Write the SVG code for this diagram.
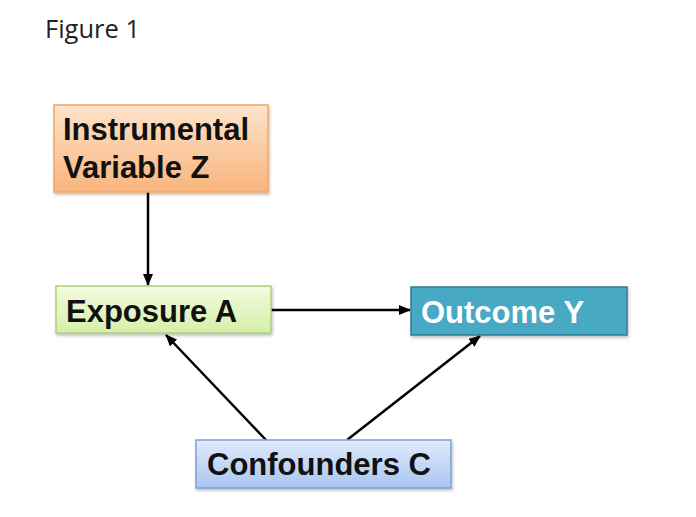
<svg xmlns="http://www.w3.org/2000/svg" width="696" height="517" viewBox="0 0 696 517">
<defs>
<linearGradient id="gO" x1="0" y1="0" x2="0" y2="1"><stop offset="0" stop-color="#fde3cb"/><stop offset="1" stop-color="#f9b47c"/></linearGradient>
<linearGradient id="gG" x1="0" y1="0" x2="0" y2="1"><stop offset="0" stop-color="#f3fbe0"/><stop offset="1" stop-color="#d6efa8"/></linearGradient>
<linearGradient id="gB" x1="0" y1="0" x2="0" y2="1"><stop offset="0" stop-color="#e0ebfc"/><stop offset="1" stop-color="#a8c5f0"/></linearGradient>
<marker id="ah" markerWidth="12" markerHeight="10" refX="11" refY="5" orient="auto" markerUnits="userSpaceOnUse"><path d="M0,0 L12,5 L0,10 Z" fill="#000"/></marker>
<filter id="sh" x="-5%" y="-5%" width="112%" height="125%"><feDropShadow dx="1" dy="2" stdDeviation="1.5" flood-color="#000" flood-opacity="0.25"/></filter>
</defs>
<style>
.lbl{font-family:"Liberation Sans",Arial,sans-serif;font-weight:bold;font-size:31px;fill:#111}
.edge{stroke:#000;stroke-width:2.5;fill:none;marker-end:url(#ah)}
</style>
<rect width="696" height="517" fill="#fff"/>
<text x="45" y="38" font-family="'Open Sans','Noto Sans',sans-serif" font-size="25.5" fill="#222">Figure 1</text>
<g id="edges">
<line class="edge" x1="148" y1="192" x2="148" y2="285"/>
<line class="edge" x1="271" y1="310" x2="410" y2="310"/>
<line class="edge" x1="266" y1="440" x2="166" y2="335"/>
<line class="edge" x1="347" y1="440" x2="480" y2="336"/>
</g>
<g id="nodeZ">
<rect x="54" y="105" width="214" height="87" fill="url(#gO)" stroke="#f0a868" stroke-width="1.5" filter="url(#sh)"/>
<text class="lbl" x="63" y="140">Instrumental</text>
<text class="lbl" x="63" y="178">Variable Z</text>
</g>
<g id="nodeA">
<rect x="56" y="286" width="215" height="47" fill="url(#gG)" stroke="#a9d27a" stroke-width="1.5" filter="url(#sh)"/>
<text class="lbl" x="66" y="322">Exposure A</text>
</g>
<g id="nodeY">
<rect x="411" y="287" width="216" height="48" fill="#47a9c3" stroke="#2f7d92" stroke-width="1.5" filter="url(#sh)"/>
<text class="lbl" x="421" y="323" style="fill:#fff">Outcome Y</text>
</g>
<g id="nodeC">
<rect x="196" y="440" width="255" height="48" fill="url(#gB)" stroke="#7f9fd4" stroke-width="1.5" filter="url(#sh)"/>
<text class="lbl" x="207" y="475">Confounders C</text>
</g>
</svg>
